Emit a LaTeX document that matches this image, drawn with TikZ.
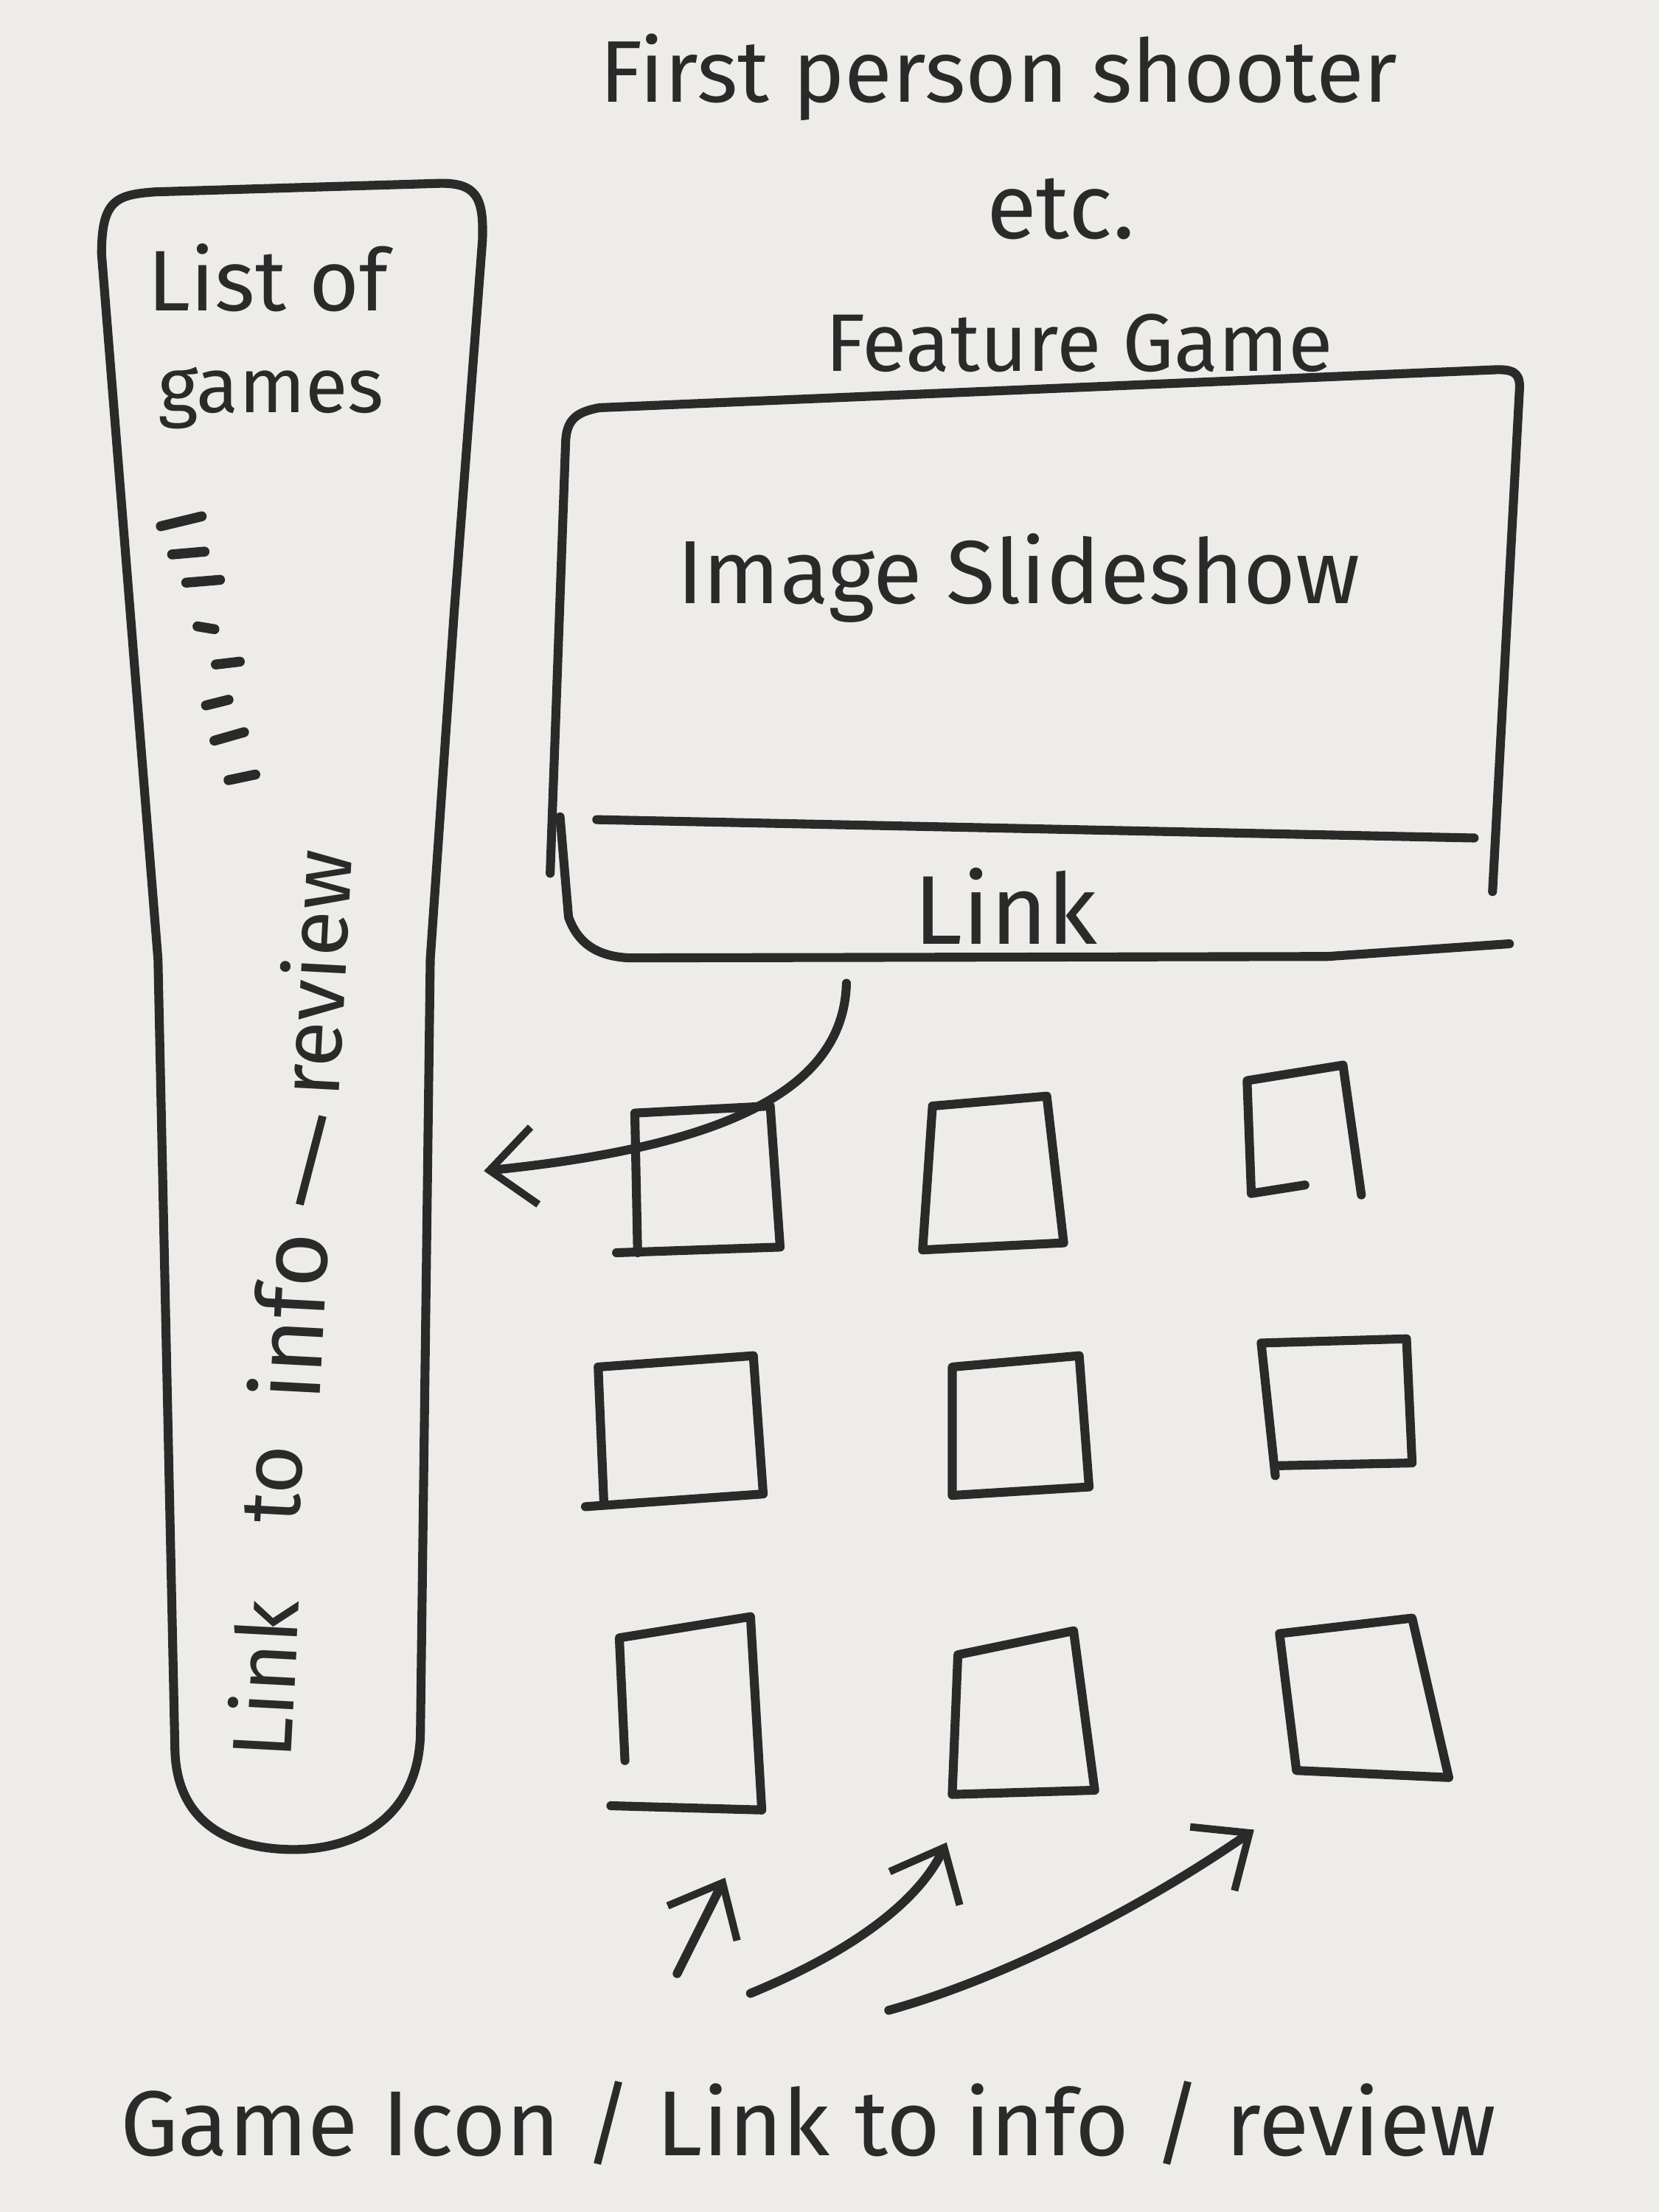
\documentclass[tikz,border=0pt]{standalone}
\usepackage{fontspec}
\setmainfont{Fira Sans}
\usetikzlibrary{arrows.meta}
\definecolor{paper}{HTML}{EDECE8}
\definecolor{pencil}{HTML}{2A2A2A}
% scale a label to a given width
\newcommand\fitto[2]{\resizebox{#1}{!}{#2}}

\begin{document}
\begin{tikzpicture}[x=0.01cm,y=-0.01cm,
  stroke/.style={draw=pencil, line width=1.8pt, line cap=round, line join=round},
  tick/.style={draw=pencil, line width=2pt, line cap=round},
  label/.style={text=pencil, inner sep=0pt},
  sideword/.style={text=pencil, inner sep=0pt, rotate=87, font=\fontsize{17pt}{20pt}\selectfont},
  barb/.style={-{Straight Barb[length=3.2mm,width=5.5mm,line width=1.5pt]}}]

% paper
\fill[paper] (0,0) rectangle (1176,1568);
\useasboundingbox (0,0) rectangle (1176,1568);

% ---- heading ----
\node[label] (title) at (708,55) {\fitto{5.65cm}{First person shooter}};
\node[label] (etc) at (752,148) {\fitto{1.05cm}{etc.}};

% ---- side list of games ----
\draw[stroke] (72,180) .. controls (72,142) and (82,138) .. (110,136)
  -- (310,130) .. controls (338,129) and (343,140) .. (342,170)
  -- (322,433) -- (305,680) -- (298,1230)
  .. controls (296,1290) and (250,1312) .. (205,1311)
  .. controls (160,1310) and (125,1290) .. (124,1240)
  -- (112,680) -- cycle;
\node[label] (listA) at (190,197) {\fitto{1.7cm}{List of}};
\node[label] (listB) at (192,282) {\fitto{1.6cm}{games}};
\draw[tick] (114,373) -- (143,366);
\draw[tick] (122,393) -- (145,391);
\draw[tick] (132,413) -- (156,411);
\draw[tick] (140,444) -- (152,446);
\draw[tick] (153,471) -- (170,469);
\draw[tick] (146,500) -- (162,496);
\draw[tick] (152,525) -- (173,519);
\draw[tick] (162,553) -- (181,549);
\node[sideword] (sideA) at (186,1190) {Link};
\node[sideword] (sideB) at (194,1052) {to};
\node[sideword, font=\fontsize{19pt}{22pt}\selectfont] (sideC) at (204,933) {info};
\node[label, font=\fontsize{20pt}{22pt}\selectfont] (sideS) at (221,823) {/};
\node[sideword] (sideD) at (222,690) {review};

% ---- feature game panel ----
\node[label] (feattitle) at (765,243) {\fitto{3.6cm}{Feature Game}};
\draw[stroke] (390,619) -- (401,312) .. controls (402,298) and (408,292) .. (425,289)
  -- (1062,262) .. controls (1075,262) and (1078,266) .. (1077,278) -- (1058,632);
\draw[stroke] (423,581) -- (1045,594);
\draw[stroke] (397,579) -- (403,650) .. controls (410,670) and (425,678) .. (446,679)
  -- (941,678) -- (1070,669);
\node[label] (slideshow) at (722,410) {\fitto{4.84cm}{Image Slideshow}};
\node[label] (featlink) at (713,642) {\fitto{1.3cm}{Link}};

% ---- game icon grid ----
\draw[stroke] (437,888) -- (553,884) -- (546,784) -- (450,789) -- (452,888);
\coordinate (g11) at (497,836);
\draw[stroke] (661,784) -- (742,777) -- (754,881) -- (654,886) -- (661,784);
\coordinate (g12) at (703,832);
\draw[stroke] (925,840) -- (887,846) -- (884,766) -- (952,755) -- (965,847);
\coordinate (g13) at (923,801);
\draw[stroke] (428,1064) -- (424,969) -- (534,961) -- (541,1059) -- (415,1068);
\coordinate (g21) at (478,1015);
\draw[stroke] (675,969) -- (765,961) -- (772,1054) -- (675,1060) -- cycle;
\coordinate (g22) at (722,1011);
\draw[stroke] (904,1046) -- (894,952) -- (997,949) -- (1001,1037) -- (904,1039);
\coordinate (g23) at (948,995);
\draw[stroke] (443,1248) -- (439,1161) -- (532,1146) -- (540,1283) -- (433,1280);
\coordinate (g31) at (487,1215);
\draw[stroke] (679,1173) -- (761,1156) -- (776,1269) -- (675,1272) -- cycle;
\coordinate (g32) at (723,1218);
\draw[stroke] (907,1158) -- (1001,1147) -- (1027,1260) -- (919,1255) -- cycle;
\coordinate (g33) at (963,1205);

% ---- link arrow from the feature panel to the side list ----
\coordinate (curvestart) at (600,697);
\coordinate (curveend) at (343,830);
\draw[stroke, barb] (curvestart) .. controls (598,770) and (520,812) .. (curveend);

% ---- icon arrows ----
\node[label] (bottom) at (573,1505) {\fitto{9.75cm}{Game Icon / Link to info / review}};
\coordinate (s1) at (480,1399);
\coordinate (t1) at (514,1331);
\coordinate (s2) at (532,1413);
\coordinate (t2) at (671,1306);
\coordinate (s3) at (630,1425);
\coordinate (t3) at (889,1297);
\draw[stroke, barb] (s1) -- (t1);
\draw[stroke, barb] (s2) .. controls (600,1385) and (650,1350) .. (t2);
\draw[stroke, barb] (s3) .. controls (720,1400) and (820,1345) .. (t3);

\end{tikzpicture}
\end{document}
